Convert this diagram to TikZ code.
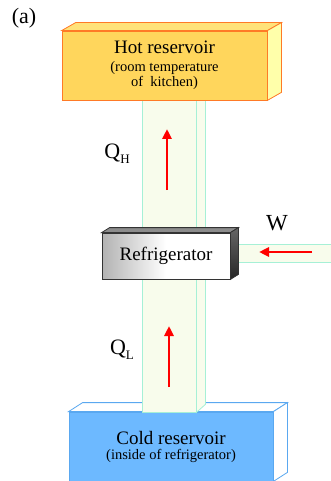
\documentclass[tikz,border=0pt]{standalone}
\usepackage{fontspec}
\setmainfont{Liberation Serif}
\usetikzlibrary{arrows.meta,positioning}

\definecolor{hotfill}{HTML}{FFD65C}
\definecolor{hotline}{HTML}{FF7A26}
\definecolor{hottop}{HTML}{FFE27A}
\definecolor{hotside}{HTML}{FFFFAA}
\definecolor{coldfill}{HTML}{6DB9FF}
\definecolor{coldline}{HTML}{5AA8F0}
\definecolor{pipefill}{HTML}{F8FCEC}
\definecolor{pipeline}{HTML}{A6F0D6}

\begin{document}
\begin{tikzpicture}[x=1pt, y=-1pt,
    box/.style={inner sep=0pt, align=center, line width=0.8pt,
        font=\fontsize{14.5}{15}\selectfont},
    hotbox/.style={box, draw=hotline, fill=hotfill},
    coldbox/.style={box, draw=coldline, fill=coldfill},
    fridge/.style={box, draw=black!80, left color=black!30, right color=white, middle color=white},
    pipe/.style={draw=pipeline, fill=pipefill, line width=0.8pt, inner sep=0pt},
    flow/.style={-{Triangle[length=10pt, width=9pt]}, line width=2.6pt, red},
    qty/.style={inner sep=0pt, font=\fontsize{22}{22}\selectfont}
]
\useasboundingbox (0,0) rectangle (330,481);

% cold reservoir
\node[coldbox, minimum width=204pt, minimum height=69pt] (cold) at (171,446.5)
    {{\fontsize{19}{22}\selectfont Cold reservoir}\\(inside of refrigerator)};
\draw[coldline, fill=white, line width=0.8pt] (cold.north west) -- ([shift={(14,-9)}]cold.north west)
    -- ([shift={(14,-9)}]cold.north east) -- (cold.north east) -- cycle;
\draw[coldline, fill=white, line width=0.8pt] (cold.north east) -- ([shift={(14,-9)}]cold.north east)
    -- ([shift={(14,-9)}]cold.south east) -- (cold.south east) -- cycle;

% heat column
\node[pipe, minimum width=54pt, minimum height=312pt] (shaft) at (169,256) {};
\draw[pipe] (shaft.north east) -- ([shift={(9,-8)}]shaft.north east)
    -- ([shift={(9,-8)}]shaft.south east) -- (shaft.south east) -- cycle;

% hot reservoir
\node[hotbox, minimum width=205pt, minimum height=69pt] (hot) at (164.5,65.5)
    {{\fontsize{19}{22}\selectfont Hot reservoir}\\[3pt](room temperature\\of\ \ kitchen)};
\draw[hotline, fill=hottop, line width=0.8pt] (hot.north west) -- ([shift={(14,-8)}]hot.north west)
    -- ([shift={(14,-8)}]hot.north east) -- (hot.north east) -- cycle;
\draw[hotline, fill=hotside, line width=0.8pt] (hot.north east) -- ([shift={(14,-8)}]hot.north east)
    -- ([shift={(14,-8)}]hot.south east) -- (hot.south east) -- cycle;

% work input
\node[pipe, minimum width=104pt, minimum height=18pt] (wpipe) at (284,253) {};

% refrigerator
\node[fridge, minimum width=128pt, minimum height=46pt] (fridge) at (166,256)
    {\fontsize{19}{22}\selectfont Refrigerator};
\draw[black!80, fill=black!45, line width=0.8pt] (fridge.north west) -- ([shift={(8,-5)}]fridge.north west)
    -- ([shift={(8,-5)}]fridge.north east) -- (fridge.north east) -- cycle;
\draw[black!80, top color=black!60, bottom color=black!85, line width=0.8pt] (fridge.north east)
    -- ([shift={(8,-5)}]fridge.north east) -- ([shift={(8,-5)}]fridge.south east) -- (fridge.south east) -- cycle;

% arrows and labels
\coordinate (qh-tail) at (167,190);
\coordinate (qh-head) at (167,129);
\coordinate (ql-tail) at (169,387);
\coordinate (ql-head) at (169,326);
\coordinate (w-tail) at (312,252);
\coordinate (w-head) at (259,252);
\draw[flow] (qh-tail) -- (qh-head);
\draw[flow] (ql-tail) -- (ql-head);
\draw[flow] (w-tail) -- (w-head);

\node[qty] (qh) at (117,154) {Q\raisebox{-5pt}{\fontsize{13}{13}\selectfont H}};
\node[qty] (ql) at (122,350) {Q\raisebox{-5pt}{\fontsize{13}{13}\selectfont L}};
\node[qty, font=\fontsize{23}{23}\selectfont] (w) at (277,223) {W};
\node[qty, font=\fontsize{22}{22}\selectfont] (tag) at (24,18) {(a)};
\end{tikzpicture}
\end{document}
